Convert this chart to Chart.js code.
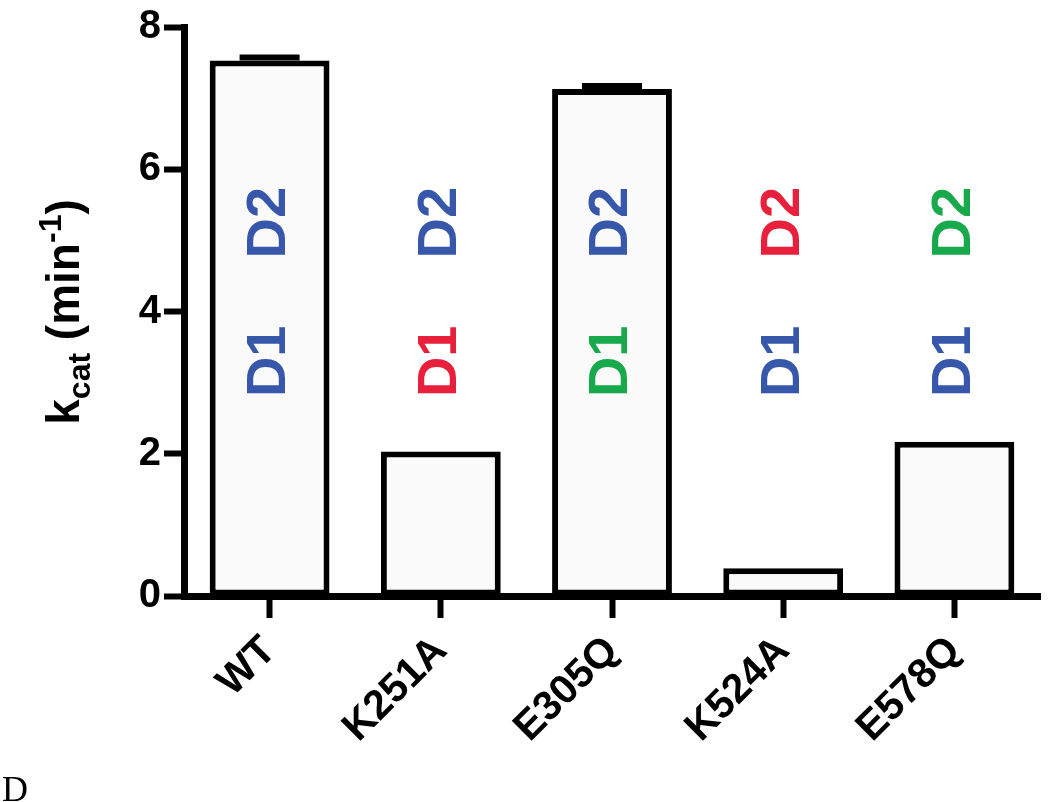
<!DOCTYPE html>
<html>
<head>
<meta charset="utf-8">
<script src="https://cdn.jsdelivr.net/npm/chart.js@4/dist/chart.umd.min.js"></script>
<style>
  html, body { margin: 0; padding: 0; background: #ffffff; }
  #wrap { position: relative; width: 1050px; height: 802px; }
  #panel { position: absolute; left: 2px; top: 771px; font-family: "Liberation Serif", "DejaVu Serif", serif; font-size: 36px; line-height: 1; color: #000; }
</style>
</head>
<body>
<div id="wrap">
  <canvas id="c" width="1050" height="802"></canvas>
  <div id="panel">D</div>
</div>
<script>
// ---- data ----
const categories = ["WT", "K251A", "E305Q", "K524A", "E578Q"];
const kcatValues = [7.53, 2.03, 7.13, 0.39, 2.17];
const kcatErrors = [0.04, 0, 0.04, 0, 0];
const yTicks = [0, 2, 4, 6, 8];
const d1Colors = ["blue", "red", "green", "blue", "blue"];
const d2Colors = ["blue", "blue", "blue", "red", "green"];
const domainLabels = ["D1", "D2"];
const domainLevels = [3.3, 5.25];   // vertical centre of each label, in kcat units

const palette = { blue: "#3757aa", red: "#e8203c", green: "#17a94b" };
const FONT = '"Liberation Sans", Arial, Helvetica, sans-serif';

const extras = {
  id: "extras",
  afterDatasetsDraw(chart) {
    const ctx = chart.ctx;
    const xs = chart.scales.x, ys = chart.scales.y;
    // error bars
    ctx.save();
    ctx.strokeStyle = "#000";
    ctx.lineWidth = 6;
    kcatValues.forEach((v, i) => {
      const e = kcatErrors[i];
      if (!e) return;
      const x = xs.getPixelForValue(i);
      const yTop = ys.getPixelForValue(v + e);
      const yBase = ys.getPixelForValue(v);
      ctx.beginPath();
      ctx.moveTo(x, yBase); ctx.lineTo(x, yTop);
      ctx.moveTo(x - 30, yTop); ctx.lineTo(x + 30, yTop);
      ctx.stroke();
    });
    ctx.restore();
    // domain labels
    ctx.save();
    ctx.font = "bold 56px " + FONT;
    ctx.textAlign = "center";
    ctx.textBaseline = "middle";
    categories.forEach((c, i) => {
      const x = xs.getPixelForValue(i);
      [d1Colors[i], d2Colors[i]].forEach((col, k) => {
        const y = ys.getPixelForValue(domainLevels[k]);
        ctx.save();
        ctx.translate(x, y);
        ctx.rotate(-Math.PI / 2);
        ctx.fillStyle = palette[col];
        ctx.fillText(domainLabels[k], 0, 0);
        ctx.restore();
      });
    });
    ctx.restore();
    // y-axis title with sub/superscript
    ctx.save();
    ctx.translate(79, 312);
    ctx.rotate(-Math.PI / 2);
    ctx.fillStyle = "#000";
    ctx.textBaseline = "alphabetic";
    const parts = [
      { t: "k", s: 46, dy: 0 },
      { t: "cat", s: 32, dy: 11 },
      { t: " (min", s: 46, dy: 0 },
      { t: "-1", s: 32, dy: -18 },
      { t: ")", s: 46, dy: 0 }
    ];
    let total = 0;
    parts.forEach(p => { ctx.font = "bold " + p.s + "px " + FONT; p.w = ctx.measureText(p.t).width; total += p.w; });
    let xp = -total / 2;
    parts.forEach(p => { ctx.font = "bold " + p.s + "px " + FONT; ctx.fillText(p.t, xp, p.dy); xp += p.w; });
    ctx.restore();
  }
};

new Chart(document.getElementById("c"), {
  type: "bar",
  data: {
    labels: categories,
    datasets: [{
      data: kcatValues,
      backgroundColor: "#fafafa",
      borderColor: "#000",
      borderWidth: 6,
      borderSkipped: false,
      categoryPercentage: 1,
      barPercentage: 0.7
    }]
  },
  options: {
    responsive: false,
    animation: false,
    events: [],
    layout: { autoPadding: false, padding: { left: 0, top: 22, right: 10, bottom: 0 } },
    plugins: { legend: { display: false }, tooltip: { enabled: false } },
    scales: {
      x: {
        afterFit(s) { s.height = 206; },
        grid: { display: true, offset: false, drawOnChartArea: false, drawTicks: true, tickLength: 22, tickWidth: 6, tickColor: "#000" },
        border: { display: true, color: "#000", width: 7 },
        ticks: { color: "#000", font: { family: FONT, size: 41, weight: "bold" }, maxRotation: 45, minRotation: 45, padding: 9 }
      },
      y: {
        min: 0, max: 8,
        afterFit(s) { s.width = 184; },
        afterBuildTicks(s) { s.ticks = yTicks.map(v => ({ value: v })); },
        grid: { display: true, drawOnChartArea: false, drawTicks: true, tickLength: 20, tickWidth: 6, tickColor: "#000" },
        border: { display: true, color: "#000", width: 7 },
        ticks: { color: "#000", font: { family: FONT, size: 40, weight: "bold" }, padding: 3 }
      }
    }
  },
  plugins: [extras]
});
</script>
</body>
</html>
